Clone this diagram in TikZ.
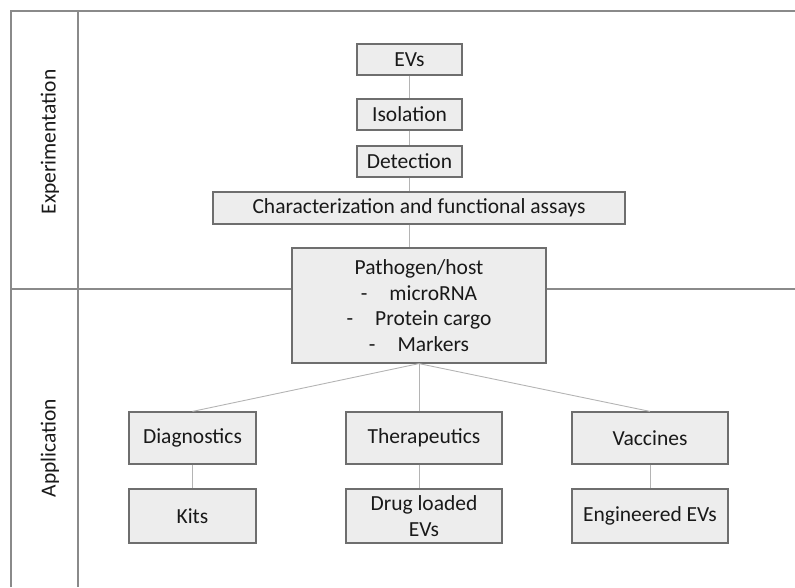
\documentclass[tikz,border=0pt]{standalone}
\usepackage{fontspec}
\setmainfont{Carlito}
\definecolor{boxfill}{HTML}{EDEDED}
\definecolor{boxline}{HTML}{6E6E6E}
\definecolor{frameline}{HTML}{8A8A8A}
\definecolor{linkline}{HTML}{B4B4B4}
\newcommand\labelfont{\fontsize{21.5}{25.5}\selectfont}
\tikzset{
  stepbox/.style={draw=boxline, line width=1.2pt, fill=boxfill, inner sep=0pt,
    align=center, font=\labelfont, text=black!90},
  smallbox/.style={stepbox, minimum width=105pt, minimum height=31pt},
  appbox/.style={stepbox, minimum width=156pt, minimum height=52pt},
  subbox/.style={stepbox, minimum width=156pt, minimum height=54pt},
  frame/.style={draw=frameline, line width=1.6pt},
  link/.style={draw=linkline, line width=0.9pt},
  rowlabel/.style={rotate=90, font=\labelfont, text=black!90}
}
\begin{document}
\begin{tikzpicture}[x=1pt, y=-1pt]
  \useasboundingbox (0,0) rectangle (795,587);
  % experimentation part
  \node[smallbox] (evs) at (409.5, 59.5) {EVs};
  \node[smallbox] (iso) at (409.5, 114.5) {Isolation};
  \node[smallbox] (det) at (409.5, 161.5) {Detection};
  \node[stepbox, minimum width=412pt, minimum height=32pt] (char) at (419, 208)
    {Characterization and functional assays};
  \node[stepbox, minimum width=254pt, minimum height=115pt] (path) at (419, 305.5)
    {Pathogen/host\\
     -\hspace{22pt}microRNA\\
     -\hspace{22pt}Protein cargo\\
     -\hspace{22pt}Markers};
  % application part
  \node[appbox, minimum width=127pt] (diag) at (192.5, 438) {Diagnostics};
  \node[subbox, minimum width=127pt] (kits) at (192.5, 516) {Kits};
  \node[appbox] (ther) at (424, 438) {Therapeutics};
  \node[subbox] (drug) at (424, 516) {Drug loaded\\EVs};
  \node[appbox] (vacc) at (650, 438) {Vaccines};
  \node[subbox] (eng) at (650, 516) {Engineered EVs};
  % row labels
  \node[rowlabel] (exp) at (50, 142) {Experimentation};
  \node[rowlabel] (app) at (50, 448) {Application};
  % frame
  \draw[frame] (11,587) -- (11,11) -- (795,11);
  \draw[frame] (78,11) -- (78,587);
  \draw[frame] (11,289) -- (path.west |- 0,289);
  \draw[frame] (path.east |- 0,289) -- (795,289);
  % connectors
  \draw[link] (evs) -- (iso);
  \draw[link] (iso) -- (det);
  \draw[link] (det) -- (det.south |- char.north);
  \draw[link] (det.south |- char.south) -- (det.south |- path.north);
  \draw[link] (path.south) -- (diag.north);
  \draw[link] (path.south) -- (path.south |- ther.north);
  \draw[link] (path.south) -- (vacc.north);
  \draw[link] (diag) -- (kits);
  \draw[link] (path.south |- ther.south) -- (path.south |- drug.north);
  \draw[link] (vacc) -- (eng);
\end{tikzpicture}
\end{document}
